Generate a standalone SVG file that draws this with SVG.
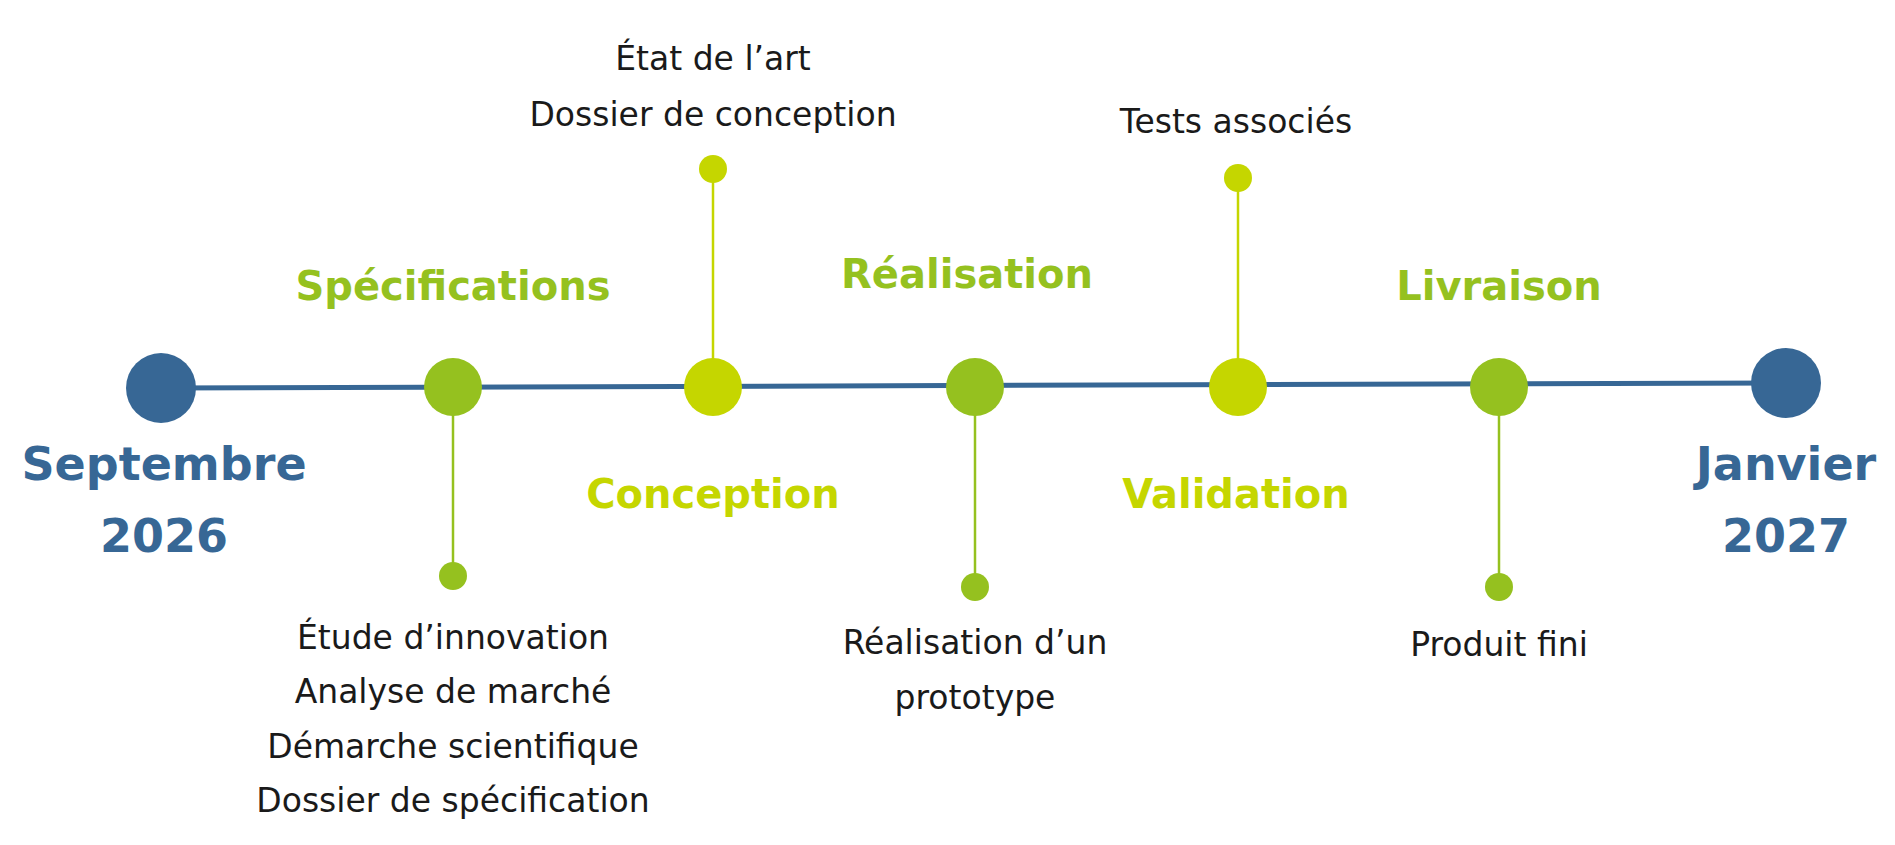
<svg xmlns="http://www.w3.org/2000/svg" width="1895" height="845" viewBox="0 0 1895 845">
<style>
.t{font-family:"DejaVu Sans",sans-serif;font-size:33px;fill:#1a1a1a;text-anchor:middle}
.h{font-family:"DejaVu Sans",sans-serif;font-weight:bold;font-size:40px;text-anchor:middle}
.d{font-family:"DejaVu Sans",sans-serif;font-weight:bold;font-size:46px;fill:#376795;text-anchor:middle}
.g{fill:#95C11F}.y{fill:#C5D600}.b{fill:#376795}
.sg{stroke:#95C11F;stroke-width:2.5}.sy{stroke:#C5D600;stroke-width:2.5}
</style>
<rect width="1895" height="845" fill="#fff"/>
<g id="connectors">
<line x1="161" y1="388" x2="1786" y2="383" stroke="#376795" stroke-width="5"/>
<line class="sg" x1="453" y1="387" x2="453" y2="576"/>
<line class="sy" x1="713" y1="387" x2="713" y2="169"/>
<line class="sg" x1="975" y1="387" x2="975" y2="587"/>
<line class="sy" x1="1238" y1="387" x2="1238" y2="178"/>
<line class="sg" x1="1499" y1="387" x2="1499" y2="587"/>
</g>
<g id="start"><circle class="b" cx="161" cy="388" r="35"/><text class="d" x="164" y="480">Septembre</text><text class="d" x="164" y="552">2026</text></g>
<g id="end"><circle class="b" cx="1786" cy="383" r="35"/><text class="d" x="1786" y="480">Janvier</text><text class="d" x="1786" y="552">2027</text></g>
<g id="specifications"><circle class="g" cx="453" cy="387" r="29"/><circle class="g" cx="453" cy="576" r="14"/>
<text class="h g" x="453" y="300">Spécifications</text>
<text class="t" x="453" y="649">Étude d’innovation</text><text class="t" x="453" y="703">Analyse de marché</text><text class="t" x="453" y="758">Démarche scientifique</text><text class="t" x="453" y="812">Dossier de spécification</text></g>
<g id="conception"><circle class="y" cx="713" cy="387" r="29"/><circle class="y" cx="713" cy="169" r="14"/>
<text class="h y" x="713" y="508">Conception</text>
<text class="t" x="713" y="70">État de l’art</text><text class="t" x="713" y="126">Dossier de conception</text></g>
<g id="realisation"><circle class="g" cx="975" cy="387" r="29"/><circle class="g" cx="975" cy="587" r="14"/>
<text class="h g" x="967" y="288">Réalisation</text>
<text class="t" x="975" y="654">Réalisation d’un</text><text class="t" x="975" y="709">prototype</text></g>
<g id="validation"><circle class="y" cx="1238" cy="387" r="29"/><circle class="y" cx="1238" cy="178" r="14"/>
<text class="h y" x="1236" y="508">Validation</text>
<text class="t" x="1236" y="133">Tests associés</text></g>
<g id="livraison"><circle class="g" cx="1499" cy="387" r="29"/><circle class="g" cx="1499" cy="587" r="14"/>
<text class="h g" x="1499" y="300">Livraison</text>
<text class="t" x="1499" y="656">Produit fini</text></g>
</svg>
